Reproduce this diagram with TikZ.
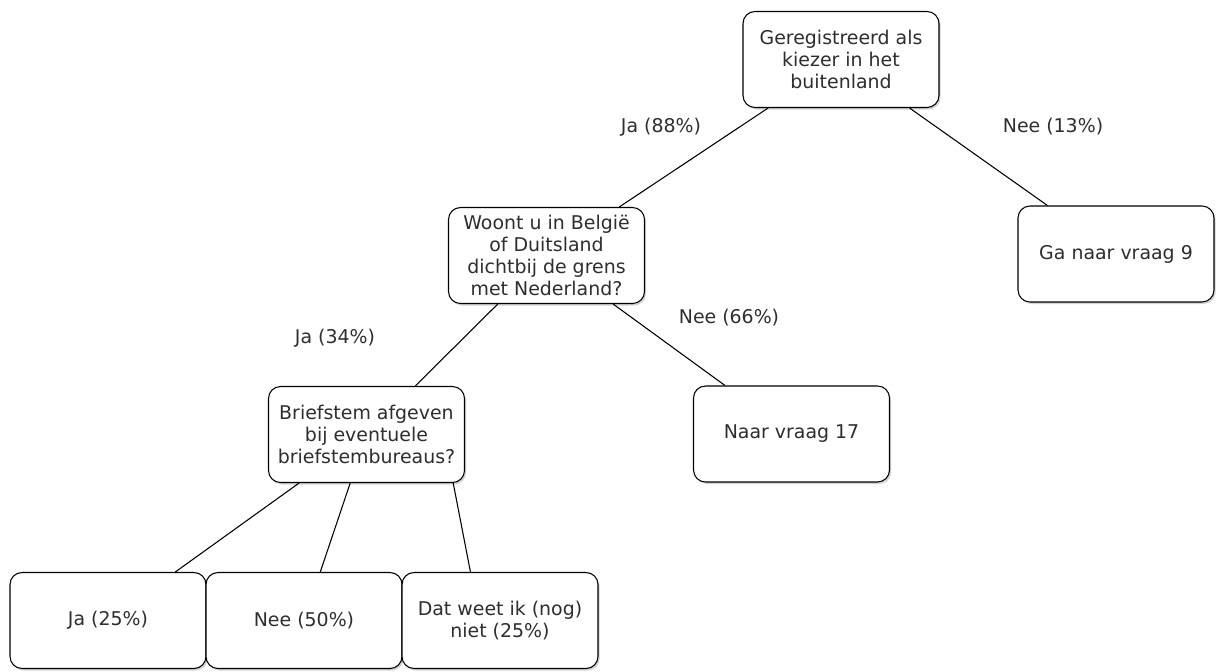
\documentclass[tikz,border=0pt]{standalone}
\usepackage{fontspec}
\setmainfont{DejaVu Sans}
\usetikzlibrary{calc,shadows}

\tikzset{
  box/.style={draw,rounded corners=9pt,fill=white,align=center,
    minimum width=147pt,minimum height=72pt,inner sep=1pt,
    drop shadow={shadow xshift=1.2pt,shadow yshift=-1.5pt,fill=black!35,opacity=0.5}},
  lbl/.style={inner sep=1pt},
}

\begin{document}
\begin{tikzpicture}[x=0.75pt,y=-0.75pt,font=\fontsize{14.2pt}{16.7pt}\selectfont,text=black!82,line width=0.8pt]
\useasboundingbox (0,0) rectangle (1216,671);
\node[box] (reg) at (841,59.5) {Geregistreerd als\\kiezer in het\\buitenland};
\node[box] (woont) at (546.5,255.5) {Woont u in België\\of Duitsland\\dichtbij de grens\\met Nederland?};
\node[box] (ga9) at (1116,254) {Ga naar vraag 9};
\node[box] (brief) at (366.5,434.5) {Briefstem afgeven\\bij eventuele\\briefstembureaus?};
\node[box] (naar17) at (791.5,434) {Naar vraag 17};
\node[box] (ja) at (108,620.5) {Ja (25\%)};
\node[box] (nee) at (304,620.5) {Nee (50\%)};
\node[box] (dat) at (500,620.5) {Dat weet ik (nog)\\niet (25\%)};
\draw (reg) -- (woont);
\draw (reg) -- (ga9);
\draw (woont) -- (brief);
\draw (woont) -- (naar17);
\draw (brief) -- (ja);
\draw (brief) -- (nee);
\draw ($(brief.south west)!0.94!(brief.south east)$) -- ($(dat.north west)!0.35!(dat.north east)$);
\node[lbl] (l88) at (661,127) {Ja (88\%)};
\node[lbl] (l13) at (1053,127) {Nee (13\%)};
\node[lbl] (l34) at (335,338) {Ja (34\%)};
\node[lbl] (l66) at (729,318) {Nee (66\%)};
\end{tikzpicture}
\end{document}
